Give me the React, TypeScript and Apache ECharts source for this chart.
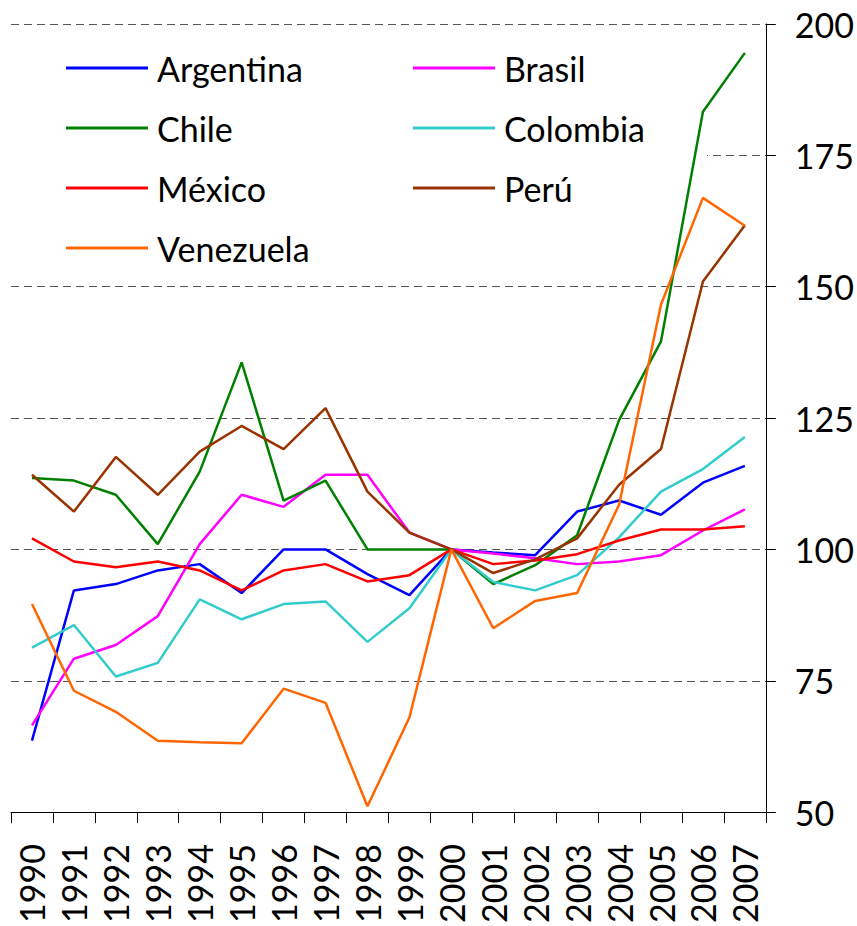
import React, { useEffect, useRef } from "react";
import * as echarts from "echarts";

const years = ["1990","1991","1992","1993","1994","1995","1996","1997","1998","1999","2000","2001","2002","2003","2004","2005","2006","2007"];

const argentina = [63.6, 92.2, 93.4, 96.0, 97.2, 91.7, 100, 100, 95.3, 91.3, 100, 99.4, 98.9, 107.2, 109.3, 106.6, 112.7, 115.9];
const brasil = [66.5, 79.2, 81.8, 87.3, 101.0, 110.4, 108.1, 114.2, 114.2, 103.2, 100, 99.2, 98.3, 97.2, 97.7, 98.9, 103.6, 107.6];
const chile = [113.6, 113.1, 110.4, 101.0, 114.8, 135.6, 109.3, 113.1, 100, 100, 100, 93.4, 97.0, 102.7, 124.6, 139.6, 183.3, 194.5];
const colombia = [81.3, 85.6, 75.8, 78.4, 90.5, 86.7, 89.6, 90.1, 82.4, 88.8, 100, 93.8, 92.2, 95.1, 102.3, 111.0, 115.3, 121.4];
const mexico = [102.1, 97.7, 96.6, 97.7, 96.0, 92.2, 96.0, 97.2, 93.9, 95.1, 100, 97.2, 97.9, 99.1, 101.7, 103.8, 103.8, 104.4];
const peru = [114.2, 107.2, 117.6, 110.4, 118.6, 123.5, 119.1, 126.9, 111.0, 103.2, 100, 95.5, 98.1, 102.1, 112.3, 119.1, 151.0, 161.7];
const venezuela = [89.6, 73.1, 69.1, 63.6, 63.3, 63.1, 73.5, 70.8, 51.1, 68.0, 100, 85.0, 90.2, 91.7, 108.5, 146.6, 166.9, 161.6];

const seriesDefs = [
  { name: "Argentina", data: argentina, color: "#0000FF" },
  { name: "Brasil", data: brasil, color: "#FF00FF" },
  { name: "Chile", data: chile, color: "#008000" },
  { name: "Colombia", data: colombia, color: "#33CCCC" },
  { name: "México", data: mexico, color: "#FF0000" },
  { name: "Perú", data: peru, color: "#993300" },
  { name: "Venezuela", data: venezuela, color: "#FF6600" },
];

const FONT = "Lato";

export default function App() {
  const ref = useRef<HTMLDivElement>(null);
  useEffect(() => {
    if (!ref.current) return;
    const chart = echarts.init(ref.current, null, { renderer: "svg" });
    const legendCommon = {
      orient: "vertical" as const,
      top: 48,
      padding: 0,
      icon: "rect",
      itemWidth: 82,
      itemHeight: 3,
      itemGap: 20,
      textStyle: {
        fontFamily: FONT,
        fontSize: 34,
        color: "#000",
        lineHeight: 40,
        padding: [0, 0, 0, 4],
      },
    };
    chart.setOption({
      animation: false,
      backgroundColor: "#fff",
      grid: { left: 11, right: 91, top: 24, bottom: 110, containLabel: false },
      graphic: [
        {
          type: "rect",
          z: 2,
          shape: { x: 0, y: 36, width: 707, height: 244 },
          style: { fill: "#fff" },
          silent: true,
        },
      ],
      legend: [
        { ...legendCommon, left: 66, data: ["Argentina", "Chile", "México", "Venezuela"] },
        { ...legendCommon, left: 413, data: ["Brasil", "Colombia", "Perú"] },
      ],
      xAxis: {
        type: "category",
        data: years,
        boundaryGap: true,
        axisLine: { lineStyle: { color: "#000", width: 1 } },
        axisTick: { show: true, length: 11, lineStyle: { color: "#000" } },
        axisLabel: {
          rotate: 90,
          margin: 32,
          fontFamily: FONT,
          fontSize: 34,
          color: "#000",
          interval: 0,
        },
        splitLine: { show: false },
      },
      yAxis: {
        type: "value",
        position: "right",
        min: 50,
        max: 200,
        interval: 25,
        axisLine: { show: true, lineStyle: { color: "#000", width: 1 } },
        axisTick: { show: true, length: 10, lineStyle: { color: "#000" } },
        axisLabel: {
          margin: 29,
          fontFamily: FONT,
          fontSize: 34,
          color: "#000",
          padding: [10, 0, 0, 0],
        },
        splitLine: {
          show: true,
          lineStyle: { color: "#555", type: [8, 5], width: 1 },
        },
      },
      series: seriesDefs.map((s) => ({
        name: s.name,
        type: "line",
        data: s.data,
        symbol: "none",
        showSymbol: false,
        z: 3,
        itemStyle: { color: s.color },
        lineStyle: { color: s.color, width: 2.5 },
      })),
    });
    return () => chart.dispose();
  }, []);
  return (
    <div
      ref={ref}
      style={{ position: "fixed", left: 0, top: 0, width: 857, height: 926, background: "#fff" }}
    />
  );
}
